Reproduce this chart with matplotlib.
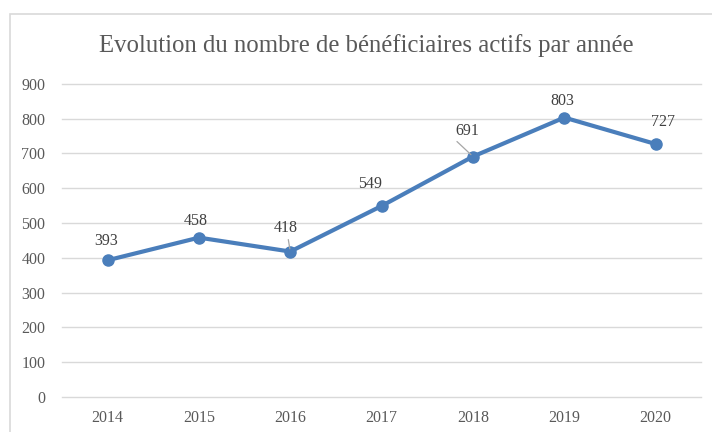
import matplotlib.pyplot as plt
from matplotlib.patches import Rectangle

years = ["2014", "2015", "2016", "2017", "2018", "2019", "2020"]
beneficiaires = [393, 458, 418, 549, 691, 803, 727]

# label placement (pixels from the point); leader start for the crowded ones
label_offsets = [(-1, 19), (-3, 17), (-5, 24), (-12, 22), (-6, 26), (-2, 17), (7, 22)]
leader_starts = [None, None, (-2, 12), None, (-16, 15), None, None]

plt.rcParams['font.family'] = ['Liberation Serif', 'DejaVu Serif']

fig = plt.figure(figsize=(7.12, 4.32), dpi=100)
ax = fig.add_axes([0.087, 0.081, 0.898, 0.725])

# light frame around the chart area
fig.patches.append(Rectangle((10/712, -0.1), 1.0, 1 - 14/432 + 0.1, transform=fig.transFigure,
                             fill=False, edgecolor='#D9D9D9', lw=1.2))

x = range(len(years))
blue = '#4A7EBB'
ax.plot(x, beneficiaires, color=blue, lw=3, marker='o', ms=8, zorder=3)

for i, v in enumerate(beneficiaires):
    dx, dy = label_offsets[i]
    ax.annotate(str(v), (i, v), xytext=(dx, dy), textcoords='offset pixels',
                ha='center', va='center', fontsize=11.5, color='#404040', zorder=4)
    if leader_starts[i]:
        ax.annotate('', (i, v), xytext=leader_starts[i], textcoords='offset pixels',
                    arrowprops=dict(arrowstyle='-', color='#A6A6A6', lw=0.9,
                                    shrinkA=0, shrinkB=2))

ax.set_xlim(-0.5, len(years) - 0.5)
ax.set_ylim(0, 900)
ax.set_yticks(range(0, 1000, 100))
ax.set_xticks(list(x))
ax.set_xticklabels(years)
ax.yaxis.grid(True, color='#D9D9D9', lw=1)
for g in ax.get_ygridlines():
    g.set_clip_on(False)
ax.set_axisbelow(True)
for s in ax.spines.values():
    s.set_visible(False)
ax.tick_params(length=0, labelsize=11.5, labelcolor='#595959')
ax.tick_params(axis='y', pad=12)
ax.tick_params(axis='x', pad=9)

fig.text(0.514, 0.895, "Evolution du nombre de bénéficiaires actifs par année",
         ha='center', va='center', fontsize=17.8, color='#595959')

fig.savefig('out.png', dpi=100)
